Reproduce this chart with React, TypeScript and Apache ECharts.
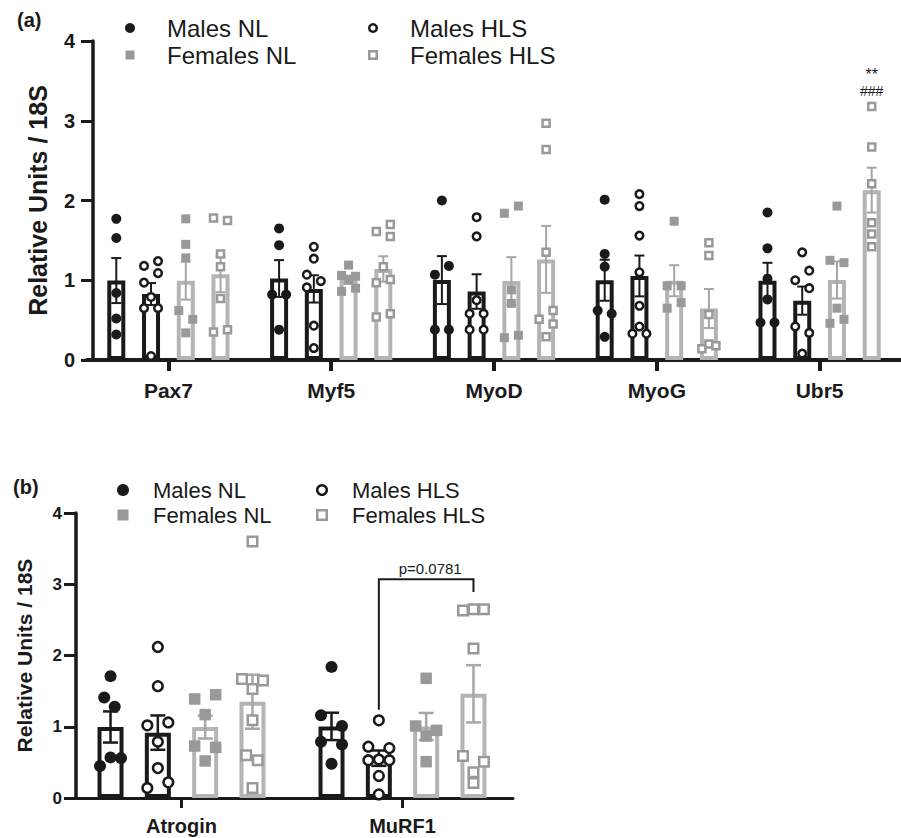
import React, { useEffect, useRef } from 'react';
import * as echarts from 'echarts';

// ---------- DATA ----------
const groups = ['Males NL', 'Males HLS', 'Females NL', 'Females HLS'];
const genesA = ['Pax7', 'Myf5', 'MyoD', 'MyoG', 'Ubr5'];
const genesB = ['Atrogin', 'MuRF1'];
const yTicks = [0, 1, 2, 3, 4];

// Panel (a): individual values per gene (Pax7, Myf5, MyoD, MyoG, Ubr5)
const aMalesNL = [
  [1.77, 1.53, 0.84, 0.52, 0.32],
  [1.65, 1.44, 0.82, 0.82, 0.38],
  [2.0, 1.18, 1.07, 0.38, 0.38],
  [2.01, 1.33, 1.17, 0.62, 0.58, 0.29],
  [1.85, 1.4, 1.02, 0.76, 0.47, 0.47],
];
const aMalesHLS = [
  [1.24, 1.18, 1.09, 0.97, 0.79, 0.65, 0.65, 0.05],
  [1.42, 1.27, 1.07, 0.99, 0.91, 0.43, 0.15],
  [1.79, 1.55, 0.75, 0.58, 0.58, 0.38, 0.38],
  [2.08, 1.93, 1.56, 1.1, 0.68, 0.42, 0.33, 0.33],
  [1.35, 1.12, 1.0, 0.9, 0.42, 0.34, 0.08],
];
const aFemalesNL = [
  [1.77, 1.45, 1.28, 0.62, 0.51, 0.34],
  [1.19, 1.06, 1.05, 1.0, 0.9, 0.86],
  [1.84, 1.93, 0.88, 0.71, 0.28, 0.31],
  [1.74, 0.93, 0.93, 0.65, 0.72],
  [1.93, 1.25, 1.22, 0.65, 0.46, 0.51],
];
const aFemalesHLS = [
  [1.78, 1.75, 1.33, 1.17, 0.77, 0.35, 0.38],
  [1.61, 1.7, 1.55, 1.17, 0.97, 1.01, 0.54, 0.58],
  [2.97, 2.64, 1.35, 0.62, 0.51, 0.45, 0.29],
  [1.47, 1.31, 0.57, 0.14, 0.2, 0.18],
  [3.18, 2.67, 2.21, 1.72, 1.58, 1.42],
];
// horizontal scatter slot of each point (-1 left, 0 centre, 1 right)
const aMalesNLJit = [[0, 0, 0, 0, 0], [0, 0, -1, 1, 0], [0, 1, -1, -1, 1], [0, 0, 0, -1, 1, 0], [0, 0, 0, 0, -1, 1]];
const aMalesHLSJit = [[1, -1, 1, -1, 0, -1, 1, 0], [0, 0, -1, 1, -1, 0, 0], [0, 0, 0, -1, 1, -1, 1], [0, 0, 0, 0, 0, 0, -1, 1], [0, 1, -1, 1, -1, 1, 0]];
const aFemalesNLJit = [[0, 0, 0, -1, 1, 0], [0, -1, 1, 0, 1, -1], [-1, 1, 0, 0, -1, 1], [0, -1, 1, -1, 1], [0, -1, 1, 0, -1, 1]];
const aFemalesHLSJit = [[-1, 1, 0, 0, 0, -1, 1], [-1, 1, 1, 0, -1, 1, -1, 1], [0, 0, 0, 1, -1, 1, 0], [0, 0, 0, -1, 0, 1], [0, 0, 0, 0, 0, 0]];

// Panel (b): Atrogin, MuRF1
const bMalesNL = [
  [1.71, 1.41, 1.28, 0.57, 0.45, 0.56],
  [1.84, 1.16, 1.01, 0.79, 0.75, 0.48],
];
const bMalesHLS = [
  [2.12, 1.57, 1.02, 1.06, 0.79, 0.42, 0.14, 0.22],
  [1.09, 0.72, 0.7, 0.53, 0.54, 0.53, 0.31, 0.05],
];
const bFemalesNL = [
  [1.39, 1.45, 1.17, 0.73, 0.71, 0.52],
  [1.68, 1.01, 0.95, 0.87, 0.51],
];
const bFemalesHLS = [
  [3.6, 1.67, 1.65, 1.53, 1.09, 0.6, 0.53, 0.14],
  [2.63, 2.65, 2.65, 2.1, 0.59, 0.51, 0.36, 0.21],
];
const bMalesNLJit = [[0, -0.6, 0.4, 0, -1, 1], [0, -1, 1, -1, 1, 0]];
const bMalesHLSJit = [[0, 0, -1, 1, 0, 0, -1, 1], [0, -1, 1, -1, 0, 1, 0, 0]];
const bFemalesNLJit = [[-1, 1, 0, -1, 1, 0], [0, -1, 1, 0, 0]];
const bFemalesHLSJit = [[0, -1, 1, 0, 0, -0.6, 0.5, 0], [-1, 0, 1, 0, -1, 1, 0, 0]];

// significance marks (panel a) : [category, group, value-position, text]
const sigCats = [4, 4];
const sigGroups = [3, 3];
const sigValues = [3.58, 3.37];
const sigTexts = ['**', '###'];

// comparison bracket (panel b)
const bracketCat = 1;
const bracketGroups = [1, 3];
const bracketTop = 3.07;
const bracketEnds = [1.24, 2.89];
const bracketLabel = 'p=0.0781';

// ---------- STYLE ----------
const FONT = '"Liberation Sans", Arial, Helvetica, sans-serif';
const BLACK = '#1a1a1a';
const GREY_BAR = '#b4b4b4';
const GREY_PT = '#999999';
const GREY_ERR = '#a6a6a6';

const mean = (a: number[]) => a.reduce((s, v) => s + v, 0) / a.length;
const sem = (a: number[]) => {
  const m = mean(a);
  const v = a.reduce((s, x) => s + (x - m) * (x - m), 0) / (a.length - 1);
  return Math.sqrt(v) / Math.sqrt(a.length);
};

const panels = [
  {
    genes: genesA,
    vals: [aMalesNL, aMalesHLS, aFemalesNL, aFemalesHLS],
    jits: [aMalesNLJit, aMalesHLSJit, aFemalesNLJit, aFemalesHLSJit],
    barW: 18, gap: 0.93, jitPx: 7, r: 5, sq: 9, cap: 5, errW: 2,
    grid: { left: 87, top: 41, width: 815, height: 319 },
    yOffset: -6, tickFs: 20, tickMargin: 18, nameFs: 25, nameGap: 43,
    xFs: 21, xMargin: 20, xLine: 4, xTickLen: 11,
  },
  {
    genes: genesB,
    vals: [bMalesNL, bMalesHLS, bFemalesNL, bFemalesHLS],
    jits: [bMalesNLJit, bMalesHLSJit, bFemalesNLJit, bFemalesHLSJit],
    barW: 26, gap: 0.82, jitPx: 10.5, r: 6, sq: 11.5, cap: 7.5, errW: 2.5,
    grid: { left: 71, top: 513, width: 442, height: 285 },
    yOffset: -5, tickFs: 17, tickMargin: 14, nameFs: 21, nameGap: 41,
    xFs: 20, xMargin: 18, xLine: 3, xTickLen: 10,
  },
];

const groupOffset = (p: any, g: number) => (g - 1.5) * p.barW * (1 + p.gap);

function buildSeries() {
  const series: any[] = [];
  panels.forEach((P, pi) => {
    groups.forEach((gName, gi) => {
      const male = gi < 2;
      const means = P.vals[gi].map((a: number[]) => mean(a));
      series.push({
        type: 'bar', name: gName, xAxisIndex: pi, yAxisIndex: pi, silent: true,
        barWidth: P.barW, barGap: Math.round(P.gap * 100) + '%', z: 2,
        data: means,
        itemStyle: { color: '#ffffff', borderColor: male ? BLACK : GREY_BAR, borderWidth: 4 },
      });
      // error bars (mean ± SEM)
      series.push({
        type: 'custom', xAxisIndex: pi, yAxisIndex: pi, silent: true, z: 3,
        data: P.vals[gi].map((a: number[], ci: number) => [ci, mean(a), sem(a)]),
        renderItem: (params: any, api: any) => {
          const c = api.value(0), m = api.value(1), s = api.value(2);
          const hi = api.coord([c, m + s]);
          const lo = api.coord([c, m - s]);
          const x = hi[0] + groupOffset(P, gi);
          const st = { stroke: male ? BLACK : GREY_ERR, lineWidth: P.errW };
          return {
            type: 'group',
            children: [
              { type: 'line', shape: { x1: x, y1: hi[1], x2: x, y2: lo[1] }, style: st },
              { type: 'line', shape: { x1: x - P.cap, y1: hi[1], x2: x + P.cap, y2: hi[1] }, style: st },
              { type: 'line', shape: { x1: x - P.cap, y1: lo[1], x2: x + P.cap, y2: lo[1] }, style: st },
            ],
          };
        },
      });
      // individual points
      const pts: number[][] = [];
      P.vals[gi].forEach((a: number[], ci: number) => a.forEach((v, k) => pts.push([ci, v, P.jits[gi][ci][k]])));
      series.push({
        type: 'custom', xAxisIndex: pi, yAxisIndex: pi, silent: true, z: 5,
        data: pts,
        renderItem: (params: any, api: any) => {
          const c = api.coord([api.value(0), api.value(1)]);
          const x = c[0] + groupOffset(P, gi) + api.value(2) * P.jitPx;
          const y = c[1];
          if (gi === 0) return { type: 'circle', shape: { cx: x, cy: y, r: P.r }, style: { fill: BLACK } };
          if (gi === 1) return { type: 'circle', shape: { cx: x, cy: y, r: P.r - 1.2 }, style: { fill: '#ffffff', stroke: BLACK, lineWidth: 2.5 } };
          if (gi === 2) return { type: 'rect', shape: { x: x - P.sq / 2, y: y - P.sq / 2, width: P.sq, height: P.sq }, style: { fill: GREY_PT } };
          const s2 = P.sq - 2;
          return { type: 'rect', shape: { x: x - s2 / 2, y: y - s2 / 2, width: s2, height: s2 }, style: { fill: '#ffffff', stroke: GREY_PT, lineWidth: 2.5 } };
        },
      });
    });
  });

  // significance marks in panel (a)
  const PA = panels[0];
  series.push({
    type: 'custom', xAxisIndex: 0, yAxisIndex: 0, silent: true, z: 6,
    data: sigCats.map((c, i) => [c, sigValues[i], sigGroups[i], i]),
    renderItem: (params: any, api: any) => {
      const c = api.coord([api.value(0), api.value(1)]);
      const i = api.value(3);
      return {
        type: 'text', x: c[0] + groupOffset(PA, api.value(2)), y: c[1],
        style: { text: sigTexts[i], fill: BLACK, fontSize: i === 0 ? 16 : 14, lineHeight: i === 0 ? 12 : 14, fontFamily: FONT, align: 'center', verticalAlign: 'middle' },
      };
    },
  });

  // bracket in panel (b)
  const PB = panels[1];
  series.push({
    type: 'custom', xAxisIndex: 1, yAxisIndex: 1, silent: true, z: 6,
    data: [[bracketCat, bracketTop, bracketEnds[0], bracketEnds[1]]],
    renderItem: (params: any, api: any) => {
      const cat = api.value(0);
      const top = api.coord([cat, api.value(1)]);
      const l = api.coord([cat, api.value(2)]);
      const r = api.coord([cat, api.value(3)]);
      const xL = top[0] + groupOffset(PB, bracketGroups[0]);
      const xR = top[0] + groupOffset(PB, bracketGroups[1]);
      return {
        type: 'group',
        children: [
          { type: 'polyline', shape: { points: [[xL, l[1]], [xL, top[1]], [xR, top[1]], [xR, r[1]]] }, style: { stroke: BLACK, lineWidth: 2, fill: null } },
          { type: 'text', x: (xL + xR) / 2 + 4, y: top[1] - 3, style: { text: bracketLabel, fill: BLACK, fontSize: 15, fontFamily: FONT, align: 'center', verticalAlign: 'bottom' } },
        ],
      };
    },
  });
  return series;
}

function legendGraphics(c1: number, c2: number, r1: number, r2: number, dx: number, rad: number, sq: number, fs: number) {
  const txt = (x: number, y: number, t: string) => ({
    type: 'text', x, y,
    style: { text: t, fill: BLACK, fontSize: fs, fontFamily: FONT, align: 'left', verticalAlign: 'middle' },
  });
  const s2 = sq - 1.5;
  return [
    { type: 'circle', shape: { cx: c1, cy: r1, r: rad }, style: { fill: BLACK } },
    txt(c1 + dx, r1, groups[0]),
    { type: 'circle', shape: { cx: c2, cy: r1, r: rad - 1.2 }, style: { fill: '#ffffff', stroke: BLACK, lineWidth: 2.5 } },
    txt(c2 + dx, r1, groups[1]),
    { type: 'rect', shape: { x: c1 - sq / 2, y: r2 - sq / 2, width: sq, height: sq }, style: { fill: GREY_PT } },
    txt(c1 + dx, r2, groups[2]),
    { type: 'rect', shape: { x: c2 - s2 / 2, y: r2 - s2 / 2, width: s2, height: s2 }, style: { fill: '#ffffff', stroke: GREY_PT, lineWidth: 2.5 } },
    txt(c2 + dx, r2, groups[3]),
  ];
}

function buildOption() {
  const grid = panels.map((P) => ({ ...P.grid, containLabel: false }));
  const xAxis = panels.map((P, pi) => ({
    type: 'category', gridIndex: pi, data: P.genes,
    axisLine: { show: true, lineStyle: { color: BLACK, width: P.xLine } },
    axisTick: { show: true, alignWithLabel: true, length: P.xTickLen, lineStyle: { color: BLACK, width: P.xLine } },
    axisLabel: { color: BLACK, fontSize: P.xFs, fontWeight: 'bold', fontFamily: FONT, margin: P.xMargin },
    splitLine: { show: false },
  }));
  const yAxis = panels.map((P, pi) => ({
    type: 'value', gridIndex: pi, min: yTicks[0], max: yTicks[yTicks.length - 1], interval: 1,
    offset: P.yOffset,
    name: 'Relative Units / 18S', nameLocation: 'middle', nameGap: P.nameGap,
    nameTextStyle: { color: BLACK, fontSize: P.nameFs, fontWeight: 'bold', fontFamily: FONT },
    axisLine: { show: true, lineStyle: { color: BLACK, width: 3.5 } },
    axisTick: { show: true, length: 12, lineStyle: { color: BLACK, width: 3 } },
    axisLabel: { color: BLACK, fontSize: P.tickFs, fontWeight: 'bold', fontFamily: FONT, margin: P.tickMargin },
    splitLine: { show: false },
  }));
  const graphic = [
    { type: 'text', x: 17, y: 20, style: { text: '(a)', fill: BLACK, fontSize: 20, fontWeight: 'bold', fontFamily: FONT, verticalAlign: 'middle' } },
    { type: 'text', x: 13, y: 487, style: { text: '(b)', fill: BLACK, fontSize: 20, fontWeight: 'bold', fontFamily: FONT, verticalAlign: 'middle' } },
    ...legendGraphics(130, 373, 28, 55, 37, 5, 9, 24),
    ...legendGraphics(123, 322, 490, 515, 30, 6, 11, 22),
  ];
  return {
    animation: false,
    backgroundColor: '#ffffff',
    grid, xAxis, yAxis,
    graphic,
    series: buildSeries(),
  };
}

export default function App() {
  const ref = useRef<HTMLDivElement>(null);
  useEffect(() => {
    if (!ref.current) return;
    const chart = echarts.init(ref.current, undefined, { renderer: 'svg' });
    chart.setOption(buildOption() as any);
    return () => chart.dispose();
  }, []);
  return <div ref={ref} style={{ position: 'fixed', left: 0, top: 0, width: 901, height: 838, background: '#fff' }} />;
}
